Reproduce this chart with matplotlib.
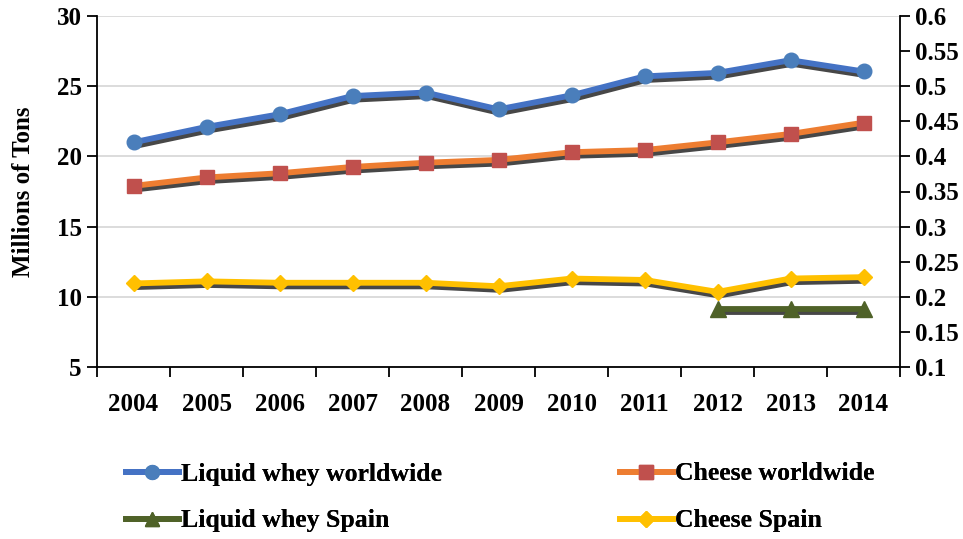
import matplotlib
matplotlib.use("Agg")
import matplotlib.pyplot as plt
import matplotlib.patheffects as pe
from matplotlib.lines import Line2D
from matplotlib.ticker import FixedLocator, FuncFormatter

years = ["2004", "2005", "2006", "2007", "2008", "2009", "2010", "2011", "2012", "2013", "2014"]

# Millions of tons (left axis)
liquid_whey_world = [21.0, 22.1, 23.0, 24.3, 24.55, 23.35, 24.35, 25.7, 25.95, 26.85, 26.05]
cheese_world = [17.9, 18.5, 18.8, 19.25, 19.55, 19.75, 20.3, 20.45, 21.0, 21.6, 22.4]

# Spain (right axis)
liquid_whey_spain_years = ["2012", "2013", "2014"]
liquid_whey_spain = [0.183, 0.183, 0.183]
cheese_spain = [0.219, 0.222, 0.22, 0.22, 0.22, 0.215, 0.226, 0.224, 0.207, 0.226, 0.228]

plt.rcParams["font.family"] = ["Liberation Serif", "DejaVu Serif"]
plt.rcParams["font.weight"] = "bold"

W, H = 963, 539
fig = plt.figure(figsize=(W / 100, H / 100), dpi=100)
ax = fig.add_axes([97 / W, 1 - 367 / H, (900 - 97) / W, (367 - 16) / H])
ax2 = ax.twinx()

x = list(range(len(years)))
x_spain = [years.index(y) for y in liquid_whey_spain_years]

shadow = [pe.SimpleLineShadow(offset=(1.2, -2.6), shadow_color="#333333", alpha=0.9),
          pe.Normal()]

series = [
    (ax, x, liquid_whey_world, "#4472C4", "#4A7EBB", "o", 10.5, "Liquid whey worldwide"),
    (ax, x, cheese_world, "#ED7D31", "#C0504D", "s", 10, "Cheese worldwide"),
    (ax2, x_spain, liquid_whey_spain, "#4F6228", "#4F6228", "^", 11, "Liquid whey Spain"),
    (ax2, x, cheese_spain, "#FFC000", "#FFC000", "D", 8.5, "Cheese Spain"),
]

handles = {}
for axis, xs, ys, lc, mc, mk, ms, label in series:
    axis.plot(xs, ys, color=lc, lw=4.2, solid_capstyle="butt", path_effects=shadow, zorder=3)
    axis.plot(xs, ys, linestyle="none", marker=mk, markersize=ms, color=mc,
              markeredgecolor=mc, zorder=4)
    handles[label] = Line2D([], [], color=lc, lw=4.2, marker=mk, markersize=ms * 0.95,
                            markerfacecolor=mc, markeredgecolor=mc)

ax.set_ylim(5, 30)
ax.set_yticks([5, 10, 15, 20, 25, 30])
ax2.set_ylim(0.1, 0.6)
ax2.set_yticks([0.1, 0.15, 0.2, 0.25, 0.3, 0.35, 0.4, 0.45, 0.5, 0.55, 0.6])
ax2.yaxis.set_major_formatter(FuncFormatter(lambda v, p: f"{v:g}"))

ax.set_xlim(-0.5, len(years) - 0.5)
ax.xaxis.set_major_locator(FixedLocator([i - 0.5 for i in range(len(years) + 1)]))
ax.xaxis.set_minor_locator(FixedLocator(x))
ax.set_xticklabels([], minor=False)
ax.set_xticklabels(years, minor=True)
ax.tick_params(axis="x", which="major", length=7, width=1.3, direction="out")
ax.tick_params(axis="x", which="minor", length=0, pad=19, labelsize=18)
ax.tick_params(axis="y", length=7, width=1.3, direction="out", labelsize=18, pad=4)
ax2.tick_params(axis="y", length=7, width=1.3, direction="out", labelsize=18, pad=4)

ax.yaxis.grid(True, color="#d9d9d9", lw=1.3)
ax.set_axisbelow(True)
for a in (ax, ax2):
    a.spines["top"].set_visible(False)
    for s in ("left", "right", "bottom"):
        a.spines[s].set_linewidth(1.3)
        a.spines[s].set_color("black")
ax.spines["right"].set_visible(False)
ax2.spines["left"].set_visible(False)
ax2.spines["bottom"].set_visible(False)

ax.set_ylabel("Millions of Tons", fontsize=18, fontweight="bold", labelpad=16)

# Legend laid out as a 2x2 grid, one entry per cell
legend_cells = [
    ("Liquid whey worldwide", 126, 474),
    ("Cheese worldwide", 620, 474),
    ("Liquid whey Spain", 126, 521),
    ("Cheese Spain", 620, 521),
]
for label, lx, ly in legend_cells:
    leg = fig.legend([handles[label]], [label], loc="center left",
                     bbox_to_anchor=(lx / W, 1 - ly / H), frameon=False,
                     borderpad=0, borderaxespad=0, handlelength=2.05, handletextpad=0.1,
                     prop={"family": ["Liberation Serif"], "weight": "bold", "size": 18.5})
    fig.add_artist(leg)

fig.savefig("out.png", dpi=100)
